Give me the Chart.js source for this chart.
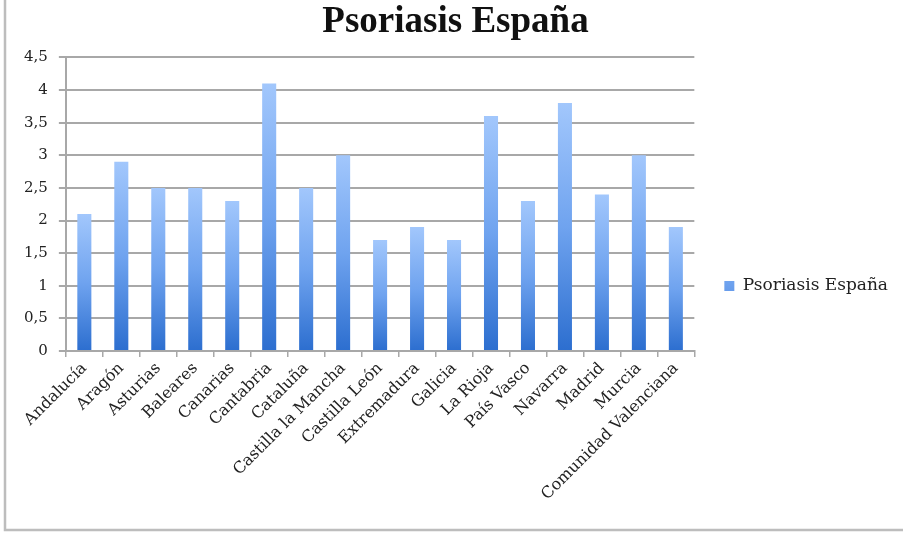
<!DOCTYPE html>
<html>
<head>
<meta charset="utf-8">
<script src="https://cdn.jsdelivr.net/npm/chart.js@4"></script>
<style>
  html, body { margin: 0; padding: 0; background: #fff; }
  #wrap { width: 903px; height: 536px; }
</style>
</head>
<body>
<div id="wrap"><canvas id="psoriasisCanvas" width="903" height="536"></canvas></div>
<script>
const regions = [
  'Andalucía', 'Aragón', 'Asturias', 'Baleares', 'Canarias', 'Cantabria',
  'Cataluña', 'Castilla la Mancha', 'Castilla León', 'Extremadura', 'Galicia',
  'La Rioja', 'País Vasco', 'Navarra', 'Madrid', 'Murcia', 'Comunidad Valenciana',
];
const prevalence = [2.1, 2.9, 2.5, 2.5, 2.3, 4.1, 2.5, 3.0, 1.7, 1.9, 1.7, 3.6, 2.3, 3.8, 2.4, 3.0, 1.9];
const seriesName = 'Psoriasis España';
const yTicks = [0, 0.5, 1, 1.5, 2, 2.5, 3, 3.5, 4, 4.5];

const gridGray = '#a8a8a8';
const serif = "'DejaVu Serif', serif";

// each bar gets its own light-top / dark-bottom gradient, like the Excel style
function barGradient(context) {
  const { chart, parsed } = context;
  const { ctx, chartArea, scales } = chart;
  if (!chartArea || !parsed || !scales.y) return '#5d95e6';
  const top = scales.y.getPixelForValue(parsed.y);
  const bottom = scales.y.getPixelForValue(0);
  const g = ctx.createLinearGradient(0, top, 0, bottom);
  g.addColorStop(0, '#a2c7fc');
  g.addColorStop(0.5, '#6fa3ef');
  g.addColorStop(1, '#2c6ecf');
  return g;
}

// grey frame on the left and bottom edge of the picture
const framePlugin = {
  id: 'frame',
  afterDraw(chart) {
    const { ctx } = chart;
    ctx.save();
    ctx.strokeStyle = '#bdbdbd';
    ctx.lineWidth = 2.5;
    ctx.beginPath();
    ctx.moveTo(5, 0);
    ctx.lineTo(5, 530);
    ctx.lineTo(903, 530);
    ctx.stroke();
    ctx.restore();
  },
};

const ctx = document.getElementById('psoriasisCanvas').getContext('2d');

window.PsoriasisChartRef = new Chart(ctx, {
  type: 'bar',
  data: {
    labels: regions,
    datasets: [
      {
        label: seriesName,
        data: prevalence,
        backgroundColor: barGradient,
        borderWidth: 0,
        barPercentage: 0.76,
        categoryPercentage: 0.5,
      },
    ],
  },
  plugins: [framePlugin],
  options: {
    responsive: false,
    animation: false,
    layout: { padding: { left: 13, right: 5, top: 0, bottom: 30 } },
    plugins: {
      title: {
        display: true,
        text: seriesName,
        color: '#111',
        font: { family: "'Liberation Serif', serif", size: 37, weight: 'bold' },
        padding: { top: 0, bottom: 13 },
      },
      legend: {
        position: 'right',
        // empty legend title only pushes the single entry down to where it sits in the original
        title: {
          display: true,
          text: ' ',
          font: { size: 14 },
          padding: { top: 25, bottom: 24 },
        },
        labels: {
          color: '#222',
          font: { family: serif, size: 17 },
          boxWidth: 10,
          boxHeight: 10,
          padding: 30,
        },
      },
      tooltip: { enabled: false },
    },
    scales: {
      x: {
        grid: {
          offset: true,
          drawOnChartArea: false,
          drawTicks: true,
          tickLength: 6,
          color: gridGray,
          lineWidth: 1.5,
        },
        border: { color: gridGray, width: 2 },
        ticks: {
          color: '#222',
          font: { family: serif, size: 16 },
          maxRotation: 45,
          minRotation: 45,
          autoSkip: false,
          padding: 2,
        },
      },
      y: {
        min: 0,
        max: 4.5,
        afterBuildTicks(scale) {
          scale.ticks = yTicks.map(value => ({ value }));
        },
        grid: { color: gridGray, lineWidth: 2, tickLength: 7 },
        border: { color: gridGray, width: 2 },
        ticks: {
          color: '#222',
          font: { family: serif, size: 15 },
          padding: 11,
          callback: value => String(value).replace('.', ','),
        },
      },
    },
  },
});
</script>
</body>
</html>
